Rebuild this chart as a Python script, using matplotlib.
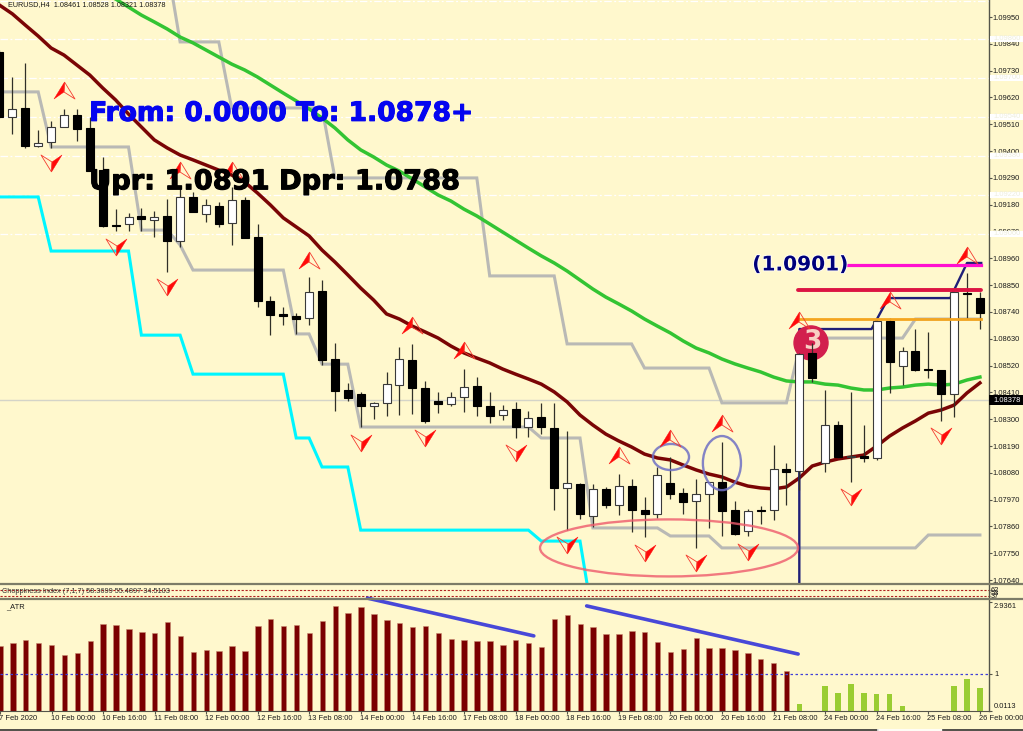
import matplotlib
matplotlib.use('Agg')
import matplotlib.pyplot as plt
import matplotlib.patheffects as pe
from matplotlib.patches import Ellipse, Rectangle
from matplotlib.transforms import blended_transform_factory

# EURUSD H4 candles, one entry per bar
opens = [1.09807,1.09540,1.09577,1.09421,1.09437,1.09499,1.09548,1.09495,1.09322,1.09097,1.09101,1.09134,1.09117,1.09134,1.09031,1.09212,1.09142,1.09175,1.09105,1.09199,
         1.09048,1.08785,1.08732,1.08723,1.08715,1.08826,1.08547,1.08420,1.08403,1.08354,1.08367,1.08440,1.08543,1.08428,1.08375,1.08362,1.08391,1.08436,1.08354,1.08317,
         1.08342,1.08268,1.08309,1.08264,1.08018,1.08034,1.07903,1.08014,1.07948,1.08026,1.07927,1.07911,1.08038,1.07997,1.07964,1.07993,1.08042,1.07927,1.07841,1.07927,
         1.07927,1.08096,1.08087,1.08572,1.08120,1.08276,1.08145,1.08149,1.08141,1.08703,1.08518,1.08580,1.08506,1.08502,1.08403,1.08818,1.08797]
closes = [1.09540,1.09573,1.09421,1.09433,1.09499,1.09548,1.09491,1.09318,1.09093,1.09093,1.09130,1.09121,1.09130,1.09031,1.09212,1.09150,1.09179,1.09101,1.09199,1.09043,
          1.08785,1.08728,1.08723,1.08711,1.08822,1.08543,1.08416,1.08387,1.08354,1.08367,1.08444,1.08547,1.08428,1.08293,1.08362,1.08391,1.08432,1.08354,1.08313,1.08338,
          1.08268,1.08305,1.08268,1.08018,1.08038,1.07911,1.08014,1.07948,1.08026,1.07927,1.07911,1.08071,1.07993,1.07960,1.07993,1.08042,1.07923,1.07829,1.07923,1.07923,
          1.08096,1.08083,1.08568,1.08469,1.08276,1.08145,1.08149,1.08141,1.08703,1.08535,1.08580,1.08502,1.08502,1.08403,1.08822,1.08814,1.08736]
highs = [1.09815,1.09704,1.09762,1.09487,1.09524,1.09573,1.09573,1.09540,1.09376,1.09162,1.09146,1.09167,1.09154,1.09204,1.09249,1.09232,1.09204,1.09191,1.09253,1.09212,
         1.09101,1.08806,1.08760,1.08736,1.08883,1.08871,1.08613,1.08449,1.08412,1.08371,1.08494,1.08596,1.08609,1.08457,1.08412,1.08412,1.08506,1.08473,1.08412,1.08358,
         1.08371,1.08334,1.08367,1.08367,1.08252,1.08038,1.08034,1.08022,1.08075,1.08055,1.07981,1.08104,1.08145,1.08018,1.08055,1.08042,1.08206,1.07964,1.07932,1.07944,
         1.08194,1.08120,1.08572,1.08613,1.08420,1.08293,1.08412,1.08276,1.08715,1.08715,1.08596,1.08670,1.08658,1.08502,1.08826,1.08900,1.08822]
lows = [1.09536,1.09470,1.09413,1.09417,1.09413,1.09499,1.09441,1.09318,1.09089,1.09072,1.09072,1.09072,1.09048,1.08904,1.09007,1.09150,1.09109,1.09089,1.09015,1.09043,
        1.08760,1.08645,1.08687,1.08650,1.08687,1.08522,1.08334,1.08375,1.08268,1.08301,1.08313,1.08317,1.08321,1.08284,1.08325,1.08354,1.08330,1.08313,1.08284,1.08297,
        1.08223,1.08227,1.08239,1.07927,1.07845,1.07891,1.07858,1.07936,1.07907,1.07837,1.07817,1.07895,1.07973,1.07911,1.07772,1.07854,1.07821,1.07825,1.07821,1.07870,
        1.07886,1.07948,1.08010,1.08453,1.08083,1.08141,1.08042,1.08124,1.08133,1.08408,1.08440,1.08498,1.08469,1.08293,1.08309,1.08711,1.08670]

ma_red = [1.09999,1.09963,1.09917,1.09872,1.09823,1.09794,1.09753,1.09712,1.09659,1.09610,1.09552,1.09499,1.09446,1.09413,1.09384,1.09364,1.09343,1.09322,1.09302,1.09273,
          1.09228,1.09179,1.09126,1.09089,1.09052,1.08994,1.08945,1.08892,1.08838,1.08789,1.08732,1.08711,1.08682,1.08658,1.08633,1.08600,1.08572,1.08551,1.08531,1.08506,
          1.08485,1.08465,1.08444,1.08412,1.08371,1.08317,1.08276,1.08239,1.08211,1.08186,1.08157,1.08141,1.08133,1.08112,1.08092,1.08075,1.08063,1.08042,1.08026,1.08018,
          1.08014,1.08022,1.08059,1.08108,1.08124,1.08137,1.08145,1.08153,1.08190,1.08231,1.08264,1.08293,1.08325,1.08338,1.08358,1.08408,1.08449]

ma_green_start = 8
ma_green = [1.10053,1.10024,1.09991,1.09958,1.09930,1.09901,1.09868,1.09844,1.09815,1.09786,1.09757,1.09733,1.09704,1.09671,1.09638,1.09606,1.09573,1.09536,1.09495,1.09446,
            1.09405,1.09376,1.09343,1.09318,1.09286,1.09253,1.09220,1.09195,1.09162,1.09134,1.09101,1.09068,1.09035,1.09002,1.08970,1.08941,1.08908,1.08871,1.08834,1.08801,
            1.08773,1.08744,1.08711,1.08682,1.08654,1.08621,1.08592,1.08572,1.08547,1.08527,1.08510,1.08494,1.08473,1.08457,1.08453,1.08453,1.08444,1.08440,1.08428,1.08420,
            1.08420,1.08428,1.08432,1.08440,1.08444,1.08440,1.08444,1.08461,1.08473]

# stepped stop levels: (bar, value) pairs
grey_upper = [(13,1.10164),(14,1.09848),(17,1.09848),(18,1.09577),(25,1.09577),(26,1.09290),(37,1.09290),(38,1.08888),(43,1.08888),(44,1.08609),(49,1.08609),
              (50,1.08510),(55,1.08510),(56,1.08367),(61,1.08367),(62,1.08592),(63,1.08633),(70,1.08633),(71,1.08711),(76,1.08711)]
grey_lower = [(0,1.09643),(3,1.09643),(4,1.09417),(10,1.09417),(11,1.09076),(13,1.09076),(14,1.09015),(15,1.08912),(22,1.08912),(23,1.08650),(24,1.08650),(25,1.08526),(27,1.08526),
              (28,1.08268),(41,1.08268),(42,1.08223),(45,1.08223),(46,1.07854),(51,1.07854),(52,1.07821),(55,1.07821),(56,1.07772),(71,1.07772),(72,1.07825),(76,1.07825)]
cyan_level = [(0,1.09212),(3,1.09212),(4,1.08990),(10,1.08990),(11,1.08645),(14,1.08645),(15,1.08485),(22,1.08485),(23,1.08223),(24,1.08223),(25,1.08104),(27,1.08104),
              (28,1.07845),(41,1.07845),(42,1.07800),(45,1.07800),(46,1.07480)]

up_bars = [5,14,18,24,32,36,48,52,56,62,69,75]
up_prices = [1.09651,1.09322,1.09322,1.08953,1.08687,1.08584,1.08153,1.08223,1.08284,1.08707,1.08789,1.08974]
down_bars = [4,9,13,28,33,40,44,50,54,58,66,73]
down_prices = [1.09351,1.09007,1.08842,1.08202,1.08223,1.08161,1.07784,1.07751,1.07710,1.07755,1.07981,1.08231]

price_ticks = [1.09950,1.09840,1.09730,1.09620,1.09510,1.09400,1.09290,1.09180,1.09070,1.08960,1.08850,1.08740,1.08630,1.08520,1.08410,1.08300,1.08190,1.08080,1.07970,1.07860,1.07750,1.07640]
grid_levels = [1.10015,1.09860,1.09700,1.09540,1.09380,1.09220,1.09060]
bid = 1.08378

atr = [1.77,1.83,1.92,1.83,1.79,1.51,1.58,1.90,2.36,2.32,2.21,2.14,2.10,2.41,2.04,1.59,1.64,1.62,1.75,1.62,
       2.29,2.49,2.29,2.32,2.12,2.44,2.84,2.64,2.81,2.61,2.47,2.38,2.27,2.29,2.10,1.95,1.92,1.90,1.90,1.79,
       1.92,1.84,1.73,2.48,2.59,2.36,2.27,2.07,2.07,2.16,2.14,1.86,1.59,1.68,1.96,1.70,1.70,1.64,1.58,1.40,
       1.29,1.09,0.20,0,0.68,0.50,0.72,0.50,0.46,0.46,0.14,0,0,0,0.68,0.86,0.63]
atr_ticks = [2.9361,1,0.0113]
atr_tick_labels = ['2.9361','1','0.0113']

date_bars = list(range(0,77,4))
date_labels = ['7 Feb 2020','10 Feb 00:00','10 Feb 16:00','11 Feb 08:00','12 Feb 00:00','12 Feb 16:00','13 Feb 08:00','14 Feb 00:00','14 Feb 16:00','17 Feb 08:00',
               '18 Feb 00:00','18 Feb 16:00','19 Feb 08:00','20 Feb 00:00','20 Feb 16:00','21 Feb 08:00','24 Feb 00:00','24 Feb 16:00','25 Feb 08:00','26 Feb 00:00']

BG = '#fff8cd'
W, H = 1023.0, 731.0
XMIN, XMAX = 0.039, 76.68
SMALL = dict(family='Liberation Sans', fontsize=5.45, color='#1a1a1a')

fig = plt.figure(figsize=(10.23,7.31), dpi=100, facecolor=BG)
ax = fig.add_axes([0,(H-583.5)/H,988.7/W,583.5/H], facecolor=BG)
chop = fig.add_axes([0,(H-598)/H,988.7/W,13/H], facecolor=BG)
low = fig.add_axes([0,(H-711)/H,988.7/W,111/H], facecolor=BG)

for a in (ax,chop,low):
    a.set_xlim(XMIN,XMAX)
    a.yaxis.tick_right()
    a.set_xticks([])
    for s in a.spines.values():
        s.set_visible(False)
    a.spines['right'].set_visible(True)
    a.spines['right'].set_color('#55554a')
    a.spines['right'].set_linewidth(1)

# main window
ax.set_ylim(1.07626,1.10020)
for g in grid_levels:
    ax.axhline(g,color='white',lw=0.9,ls=(0,(6,2,1.5,2)),zorder=1)
ax.axhline(bid,color='#d4d4c8',lw=1,zorder=1)

def steps(pairs):
    return [p[0] for p in pairs],[p[1] for p in pairs]

x,y = steps(grey_upper)
ax.plot(x,y,color='#b9b9b5',lw=2.2,zorder=2,solid_joinstyle='miter')
x,y = steps(grey_lower)
ax.plot(x,y,color='#b9b9b5',lw=2.2,zorder=2,solid_joinstyle='miter')
x,y = steps(cyan_level)
ax.plot(x,y,color='#00f6ff',lw=2.2,zorder=2,solid_joinstyle='miter')
ax.plot(range(ma_green_start,ma_green_start+len(ma_green)),ma_green,color='#33c433',lw=2.5,zorder=2.1)
ax.plot(range(len(ma_red)),ma_red,color='#7a0505',lw=2.5,zorder=2.2)

# navy breakout line, it sits behind the candles
ax.plot([62,62,67.6,68.9,73.7,75,76.1],[1.07600,1.08670,1.08670,1.08797,1.08797,1.08941,1.08941],color='#1f1f78',lw=1.7,zorder=2.3)

circle_x = (811+0.5)/12.9
ax.add_patch(Ellipse((circle_x,1.08613),34/12.9,34*4.103e-5,color='#d21f4d',zorder=2.4))
ax.text(circle_x+0.12,1.08617,'3',fontsize=19,fontweight='bold',family='DejaVu Sans',color='#f8d0c4',ha='center',va='center',zorder=2.5)

for i in range(len(opens)):
    o,c = opens[i],closes[i]
    ax.plot([i,i],[lows[i],highs[i]],color='#303028',lw=0.9,zorder=3,solid_capstyle='butt')
    bull = c>=o
    ax.add_patch(Rectangle((i-0.31,min(o,c)),0.62,max(abs(c-o),0.00002),facecolor='white' if bull else 'black',edgecolor='#3a3a3a' if bull else 'black',lw=0.8,zorder=3.1))

ax.plot([62,76.1],[1.08711,1.08711],color='#f4a51f',lw=2,zorder=3.2)
ax.plot([61.9,76.1],[1.08832,1.08832],color='#dc1443',lw=2.8,zorder=3.2,solid_capstyle='round')
ax.plot([65.8,76.1],[1.08933,1.08933],color='#ff10d0',lw=2.3,zorder=3.2)

ax.add_patch(Ellipse((51.9,1.07772),20,0.00234,fill=False,ec='#ee5a6c',lw=1.7,alpha=0.8,zorder=3.5))
ax.add_patch(Ellipse((52.05,1.08145),2.8,0.00107,fill=False,ec='#6f70c4',lw=1.7,alpha=0.85,zorder=3.5))
ax.add_patch(Ellipse((56,1.08120),2.95,0.00222,fill=False,ec='#6f70c4',lw=1.7,alpha=0.85,zorder=3.5))

up_solid = [(0,8.5),(-10.5,-8.5),(-0.5,-1.5),(0,8.5)]
up_open = [(0,8.5),(10.5,-8.5),(-0.5,-1.5),(0,8.5)]
down_solid = [(0,-8.5),(10.5,8.5),(0.5,1.5),(0,-8.5)]
down_open = [(0,-8.5),(-10.5,8.5),(0.5,1.5),(0,-8.5)]
MS = 15.1
ax.plot(up_bars,up_prices,ls='',marker=up_solid,ms=MS,mfc='#ff0a0a',mec='#ff0a0a',mew=0.3,zorder=4)
ax.plot(up_bars,up_prices,ls='',marker=up_open,ms=MS,mfc='none',mec='#f53b2f',mew=0.6,zorder=4)
ax.plot(down_bars,down_prices,ls='',marker=down_solid,ms=MS,mfc='#ff0a0a',mec='#ff0a0a',mew=0.3,zorder=4)
ax.plot(down_bars,down_prices,ls='',marker=down_open,ms=MS,mfc='none',mec='#f53b2f',mew=0.6,zorder=4)

ax.text(6.95,1.09553,'From: 0.0000 To: 1.0878+',fontsize=19.1,fontweight='bold',family='DejaVu Sans',color='#0505f0',va='center',zorder=5,
        path_effects=[pe.withStroke(linewidth=0.8,foreground='#0505f0')])
ax.text(6.95,1.09272,'Upr: 1.0891 Dpr: 1.0788',fontsize=19.6,fontweight='bold',family='DejaVu Sans',color='black',va='center',zorder=5,
        path_effects=[pe.withStroke(linewidth=0.8,foreground='black')])
ax.text(58.35,1.08933,'(1.0901)',fontsize=14.5,fontweight='bold',family='DejaVu Sans',color='#00007a',va='center',zorder=5,
        path_effects=[pe.withStroke(linewidth=1.2,foreground='white')])

ax.set_yticks(price_ticks)
ax.set_yticklabels(['%.5f'%p for p in price_ticks],**SMALL)
ax.tick_params(axis='y',length=2,width=0.8,color='#55554a',pad=1)

ybox = blended_transform_factory(ax.transAxes,ax.transData)
for g in grid_levels[1:]:
    ax.add_patch(Rectangle((1.001,g-0.00014),0.035,0.00028,transform=ybox,facecolor='white',edgecolor='none',clip_on=False,zorder=6))
    ax.text(1.0045,g,'%.5f'%g,transform=ybox,family='Liberation Sans',fontsize=5.45,color='#eeeedd',va='center',zorder=6.1)
ax.add_patch(Rectangle((1.0005,bid-0.00021),0.036,0.00042,transform=ybox,facecolor='black',edgecolor='none',clip_on=False,zorder=6))
ax.text(1.0045,bid,'%.5f'%bid,transform=ybox,family='Liberation Sans',fontsize=5.45,color='white',va='center',zorder=6.1)

ax.text(0.008,0.9915,'EURUSD,H4  1.08461 1.08528 1.08321 1.08378',transform=ax.transAxes,va='center',family='Liberation Sans',fontsize=5.25,color='#1a1a1a')

# choppiness window
chop.set_ylim(27.6,83.1)
chop.axhline(61.8,color='#b02020',lw=0.8,ls=(0,(2,1.5)))
chop.axhline(38.2,color='#b02020',lw=0.8,ls=(0,(2,1.5)))
chop.text(0.002,0.5,'Choppiness Index (7,1,7) 58.3699 55.4897 34.5103',transform=chop.transAxes,va='center',family='Liberation Sans',fontsize=5.3,color='#333333')
chop.set_yticks([61.8,53,38.2])
chop.set_yticklabels(['62','53','37'],**SMALL)
chop.tick_params(axis='y',length=1,width=0.8,color='#55554a',pad=0.5)

# ATR window
low.set_ylim(0,3.0)
low.bar(range(62),atr[:62],width=0.42,color='#7b0000',edgecolor='#c88a70',lw=0.4,zorder=2)
low.bar(range(62,len(atr)),atr[62:],width=0.42,color='#9acd32',zorder=2)
low.axhline(1,color='#4040d8',lw=0.9,ls=(0,(2,2)),zorder=3)
low.plot([28.5,41.4],[3.05,2.03],color='#4848d8',lw=2.6,clip_on=False,zorder=4,solid_capstyle='round')
low.plot([45.5,61.9],[2.84,1.54],color='#4848d8',lw=2.6,clip_on=False,zorder=4,solid_capstyle='round')
low.text(0.006,0.937,'_ATR',transform=low.transAxes,va='center',**SMALL)
low.set_yticks(atr_ticks)
low.set_yticklabels([])
low.tick_params(axis='y',length=2,width=0.8,color='#55554a')
ylab = blended_transform_factory(low.transAxes,low.transData)
for v,lab,dv in zip(atr_ticks,atr_tick_labels,[-0.1,0,0.1]):
    low.text(1.0055,v+dv,lab,transform=ylab,va='center',clip_on=False,**SMALL)
low.spines['bottom'].set_visible(True)
low.spines['bottom'].set_color('#55554a')
low.set_xticks(date_bars)
low.set_xticklabels([])
low.tick_params(axis='x',length=2.5,width=0.8,color='#55554a')
xbox = blended_transform_factory(low.transData,low.transAxes)
for b,lab in zip(date_bars,date_labels):
    low.text(b-0.08,-0.072,lab,transform=xbox,va='center',ha='left',clip_on=False,**SMALL)

# separators between the windows
for yy in (584,598.5):
    fig.add_artist(plt.Line2D([0,1],[(H-yy)/H,(H-yy)/H],color='#7c7c68',lw=1.6))
fig.add_artist(plt.Line2D([0,878/W],[0.8/H,0.8/H],color='#333333',lw=1.2))
fig.add_artist(plt.Line2D([878/W,943/W],[0.8/H,0.8/H],color='white',lw=1.2))
fig.add_artist(plt.Line2D([943/W,1],[0.8/H,0.8/H],color='#333333',lw=1.2))

fig.savefig('out.png',dpi=100,facecolor=BG)
